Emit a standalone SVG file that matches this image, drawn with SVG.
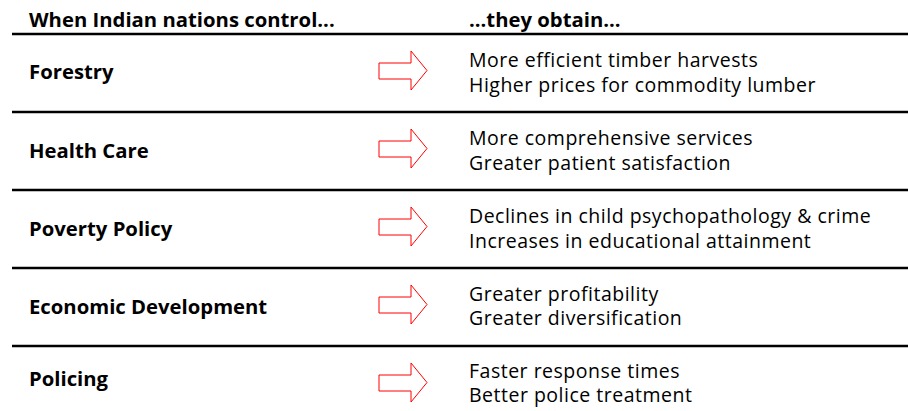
<svg xmlns="http://www.w3.org/2000/svg" width="908" height="411" viewBox="0 0 908 411">
<defs>
<style>
.hd{font-family:"Open Sans","Liberation Sans",sans-serif;font-weight:bold;font-size:20.3px;fill:#000}
.lb{font-family:"Open Sans","Liberation Sans",sans-serif;font-weight:bold;font-size:20.3px;fill:#000}
.tx{font-family:"Open Sans","Liberation Sans",sans-serif;font-size:19.5px;letter-spacing:0.5px;fill:#000}
.rule{stroke:#000;stroke-width:2.5;fill:none}
.arrow{fill:#fff;stroke:#f00;stroke-width:1}
</style>
<polygon id="arr" class="arrow" points="379,63 411,63 411,51 427,70.5 411,90 411,79 379,79"/>
</defs>
<g id="header">
<text class="hd" x="29" y="27">When Indian nations control...</text>
<text class="hd" x="469" y="27">...they obtain...</text>
</g>
<g id="rules">
<line class="rule" x1="12" y1="34" x2="908" y2="34"/>
<line class="rule" x1="12" y1="112" x2="908" y2="112"/>
<line class="rule" x1="12" y1="190" x2="908" y2="190"/>
<line class="rule" x1="12" y1="268" x2="908" y2="268"/>
<line class="rule" x1="12" y1="346" x2="908" y2="346"/>
</g>
<g id="connectors">
<use href="#arr"/>
<use href="#arr" y="78"/>
<use href="#arr" y="156"/>
<use href="#arr" y="234"/>
<use href="#arr" y="312"/>
</g>
<g id="row-forestry">
<text class="lb" x="29" y="79">Forestry</text>
<text class="tx" x="469" y="67">More efficient timber harvests</text>
<text class="tx" x="469" y="91.5">Higher prices for commodity lumber</text>
</g>
<g id="row-health">
<text class="lb" x="29" y="158">Health Care</text>
<text class="tx" x="469" y="145">More comprehensive services</text>
<text class="tx" x="469" y="169.5">Greater patient satisfaction</text>
</g>
<g id="row-poverty">
<text class="lb" x="29" y="236">Poverty Policy</text>
<text class="tx" x="469" y="223">Declines in child psychopathology &amp; crime</text>
<text class="tx" x="469" y="247.5">Increases in educational attainment</text>
</g>
<g id="row-economic">
<text class="lb" x="29" y="314">Economic Development</text>
<text class="tx" x="469" y="300.5">Greater profitability</text>
<text class="tx" x="469" y="325">Greater diversification</text>
</g>
<g id="row-policing">
<text class="lb" x="29" y="386">Policing</text>
<text class="tx" x="469" y="377.5">Faster response times</text>
<text class="tx" x="469" y="402">Better police treatment</text>
</g>
</svg>
